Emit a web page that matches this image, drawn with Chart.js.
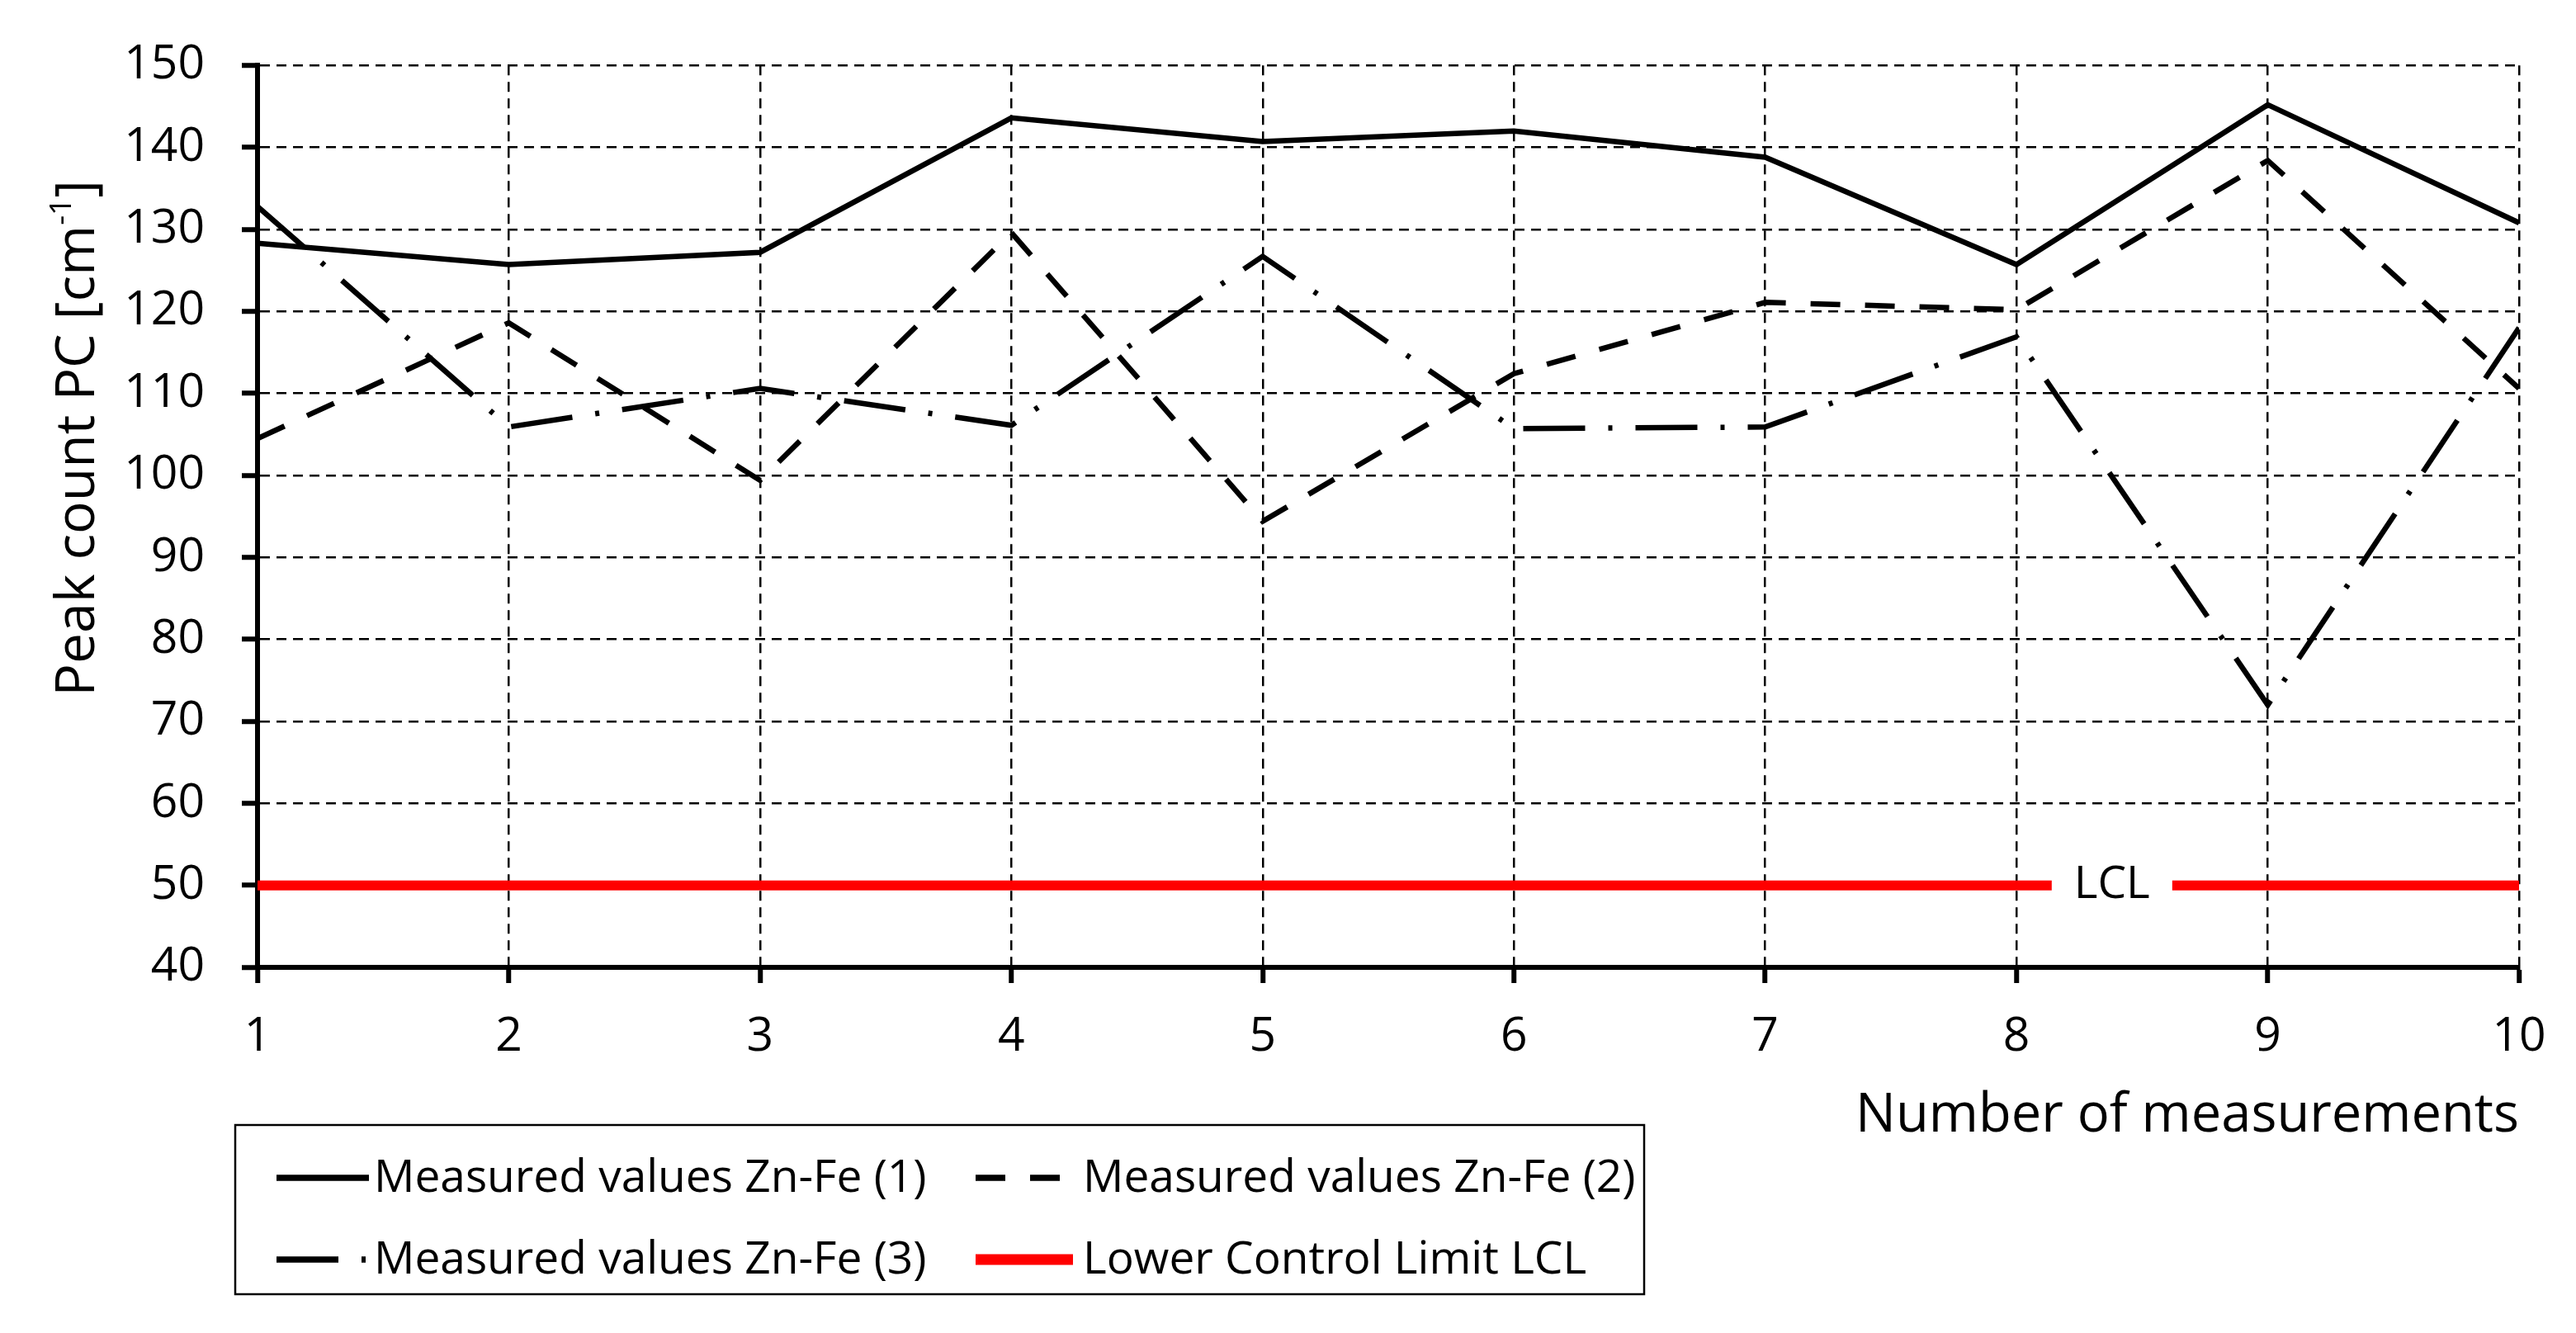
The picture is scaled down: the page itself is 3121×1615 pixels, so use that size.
<!DOCTYPE html>
<html><head><meta charset="utf-8">
<script src="https://cdn.jsdelivr.net/npm/chart.js@4.4.1/dist/chart.umd.min.js"></script>
<style>html,body{margin:0;padding:0;background:#fff;} #wrap{width:3121px;height:1615px;position:relative;}</style>
</head><body><div id="wrap"><canvas id="c"></canvas></div>
<script>
// ---- data ----
const measurements = [1, 2, 3, 4, 5, 6, 7, 8, 9, 10];
const znFe1 = [128.3, 125.7, 127.2, 143.6, 140.7, 142.0, 138.8, 125.7, 145.2, 130.8];
const znFe2 = [104.5, 118.6, 99.4, 129.6, 94.4, 112.4, 121.1, 120.2, 138.4, 110.6];
const znFe3 = [132.8, 105.9, 110.6, 106.1, 126.7, 105.7, 105.9, 116.9, 72.0, 118.0];
const lcl = [50, 50, 50, 50, 50, 50, 50, 50, 50, 50];
const seriesLabels = ['Measured values Zn-Fe (1)', 'Measured values Zn-Fe (2)', 'Measured values Zn-Fe (3)', 'Lower Control Limit LCL'];
const yTickValues = [40, 50, 60, 70, 80, 90, 100, 110, 120, 130, 140, 150];
const xAxisTitle = 'Number of measurements';
const yAxisTitle = ['Peak count PC [cm', '-1', ']'];
const lclTagText = 'LCL';
const lclTagAt = 8.38;

const FONT = "'Open Sans', 'DejaVu Sans', sans-serif";
Chart.defaults.font.family = FONT;
Chart.defaults.color = '#000';

const pts = arr => measurements.map((m, i) => ({x: m, y: arr[i]}));

const lclTagPlugin = {
  id: 'lclTag',
  afterDatasetsDraw(chart) {
    const {ctx, scales: {x, y}} = chart;
    const px = x.getPixelForValue(lclTagAt);
    const py = y.getPixelForValue(lcl[0]);
    ctx.save();
    ctx.fillStyle = '#fff';
    ctx.fillRect(px - 73, py - 10, 146, 20);
    ctx.fillStyle = '#000';
    ctx.font = '55px ' + FONT;
    ctx.textAlign = 'center';
    ctx.textBaseline = 'middle';
    ctx.fillText(lclTagText, px, py);
    ctx.restore();
  }
};

const legendPlugin = {
  id: 'boxLegend',
  afterDraw(chart) {
    const ctx = chart.ctx;
    const box = {l: 285, t: 1363, r: 1992, b: 1568};
    const cols = [{sx: 335, ex: 447, tx: 453}, {sx: 1182, ex: 1300, tx: 1312}];
    const rows = [{sy: 1427, ty: 1444}, {sy: 1526, ty: 1543}];
    const place = [[0, 0], [1, 0], [0, 1], [1, 1]];
    ctx.save();
    ctx.strokeStyle = '#000';
    ctx.lineWidth = 2.5;
    ctx.strokeRect(box.l, box.t, box.r - box.l, box.b - box.t);
    chart.data.datasets.forEach((ds, i) => {
      const c = cols[place[i][0]], r = rows[place[i][1]];
      ctx.save();
      ctx.strokeStyle = ds.borderColor;
      ctx.lineWidth = ds.borderWidth + 1;
      ctx.lineCap = 'butt';
      ctx.setLineDash(ds.borderDash || []);
      ctx.beginPath();
      ctx.moveTo(c.sx, r.sy);
      ctx.lineTo(c.ex, r.sy);
      ctx.stroke();
      ctx.restore();
      ctx.fillStyle = '#000';
      ctx.font = '55px ' + FONT;
      ctx.textAlign = 'left';
      ctx.textBaseline = 'alphabetic';
      ctx.fillText(ds.label, c.tx, r.ty);
    });
    ctx.restore();
  }
};

const yTitlePlugin = {
  id: 'yTitle',
  afterDraw(chart) {
    const ctx = chart.ctx;
    ctx.save();
    ctx.translate(95, 531);
    ctx.rotate(-Math.PI / 2);
    ctx.fillStyle = '#000';
    ctx.textBaseline = 'middle';
    ctx.textAlign = 'left';
    const big = '66px ' + FONT, small = '37px ' + FONT;
    ctx.font = big; const w1 = ctx.measureText(yAxisTitle[0]).width; const w3 = ctx.measureText(yAxisTitle[2]).width;
    ctx.font = small; const w2 = ctx.measureText(yAxisTitle[1]).width;
    let sx = -(w1 + w2 + w3) / 2;
    ctx.font = big; ctx.fillText(yAxisTitle[0], sx, 0);
    ctx.font = small; ctx.fillText(yAxisTitle[1], sx + w1, -20);
    ctx.font = big; ctx.fillText(yAxisTitle[2], sx + w1 + w2, 0);
    ctx.restore();
  }
};

const gridOpts = {color: '#000', lineWidth: 2.5, tickLength: 19, tickWidth: 6, tickColor: '#000', tickBorderDash: [], borderDash: [12, 8]};
const borderOpts = {display: true, color: '#000', width: 6, dash: [12, 8]};

new Chart(document.getElementById('c'), {
  type: 'line',
  data: {
    datasets: [
      {label: seriesLabels[0], data: pts(znFe1), borderColor: '#000', borderWidth: 6.5, borderDash: [], order: 3},
      {label: seriesLabels[1], data: pts(znFe2), borderColor: '#000', borderWidth: 6.5, borderDash: [36, 30], order: 2},
      {label: seriesLabels[2], data: pts(znFe3), borderColor: '#000', borderWidth: 6.5, borderDash: [75, 28, 5, 28], order: 1},
      {label: seriesLabels[3], data: pts(lcl), borderColor: '#ff0000', borderWidth: 12, borderDash: [], order: 4}
    ]
  },
  options: {
    responsive: true, maintainAspectRatio: false, devicePixelRatio: 1, animation: false,
    layout: {padding: {top: 76, left: 0, right: 69, bottom: 215}},
    elements: {point: {radius: 0, hoverRadius: 0}, line: {tension: 0, fill: false, borderCapStyle: 'butt', borderJoinStyle: 'miter'}},
    plugins: {legend: {display: false}, tooltip: {enabled: false}},
    scales: {
      x: {
        type: 'linear', min: measurements[0], max: measurements[measurements.length - 1],
        afterFit: s => { s.height = 228; },
        afterBuildTicks: s => { s.ticks = measurements.map(v => ({value: v})); },
        ticks: {color: '#000', font: {size: 57}, padding: 32, maxRotation: 0, autoSkip: false},
        grid: gridOpts, border: borderOpts,
        title: {display: true, text: xAxisTitle, align: 'end', color: '#000', font: {size: 65}, padding: {top: 0, bottom: 9}}
      },
      y: {
        min: yTickValues[0], max: yTickValues[yTickValues.length - 1],
        afterFit: s => { s.width = 312; },
        afterBuildTicks: s => { s.ticks = yTickValues.map(v => ({value: v})); },
        ticks: {color: '#000', font: {size: 57}, padding: 45},
        grid: gridOpts, border: borderOpts
      }
    }
  },
  plugins: [lclTagPlugin, legendPlugin, yTitlePlugin]
});
</script>
</body></html>
